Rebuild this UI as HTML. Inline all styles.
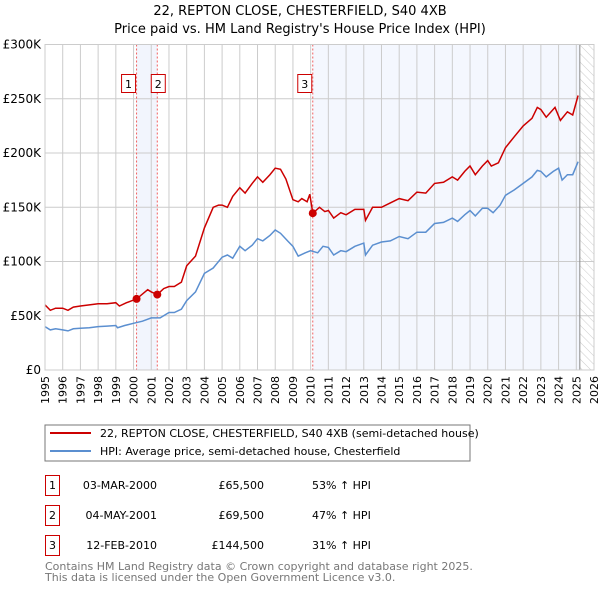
<!DOCTYPE html>
<html><head><meta charset="utf-8"><style>
body{margin:0;background:#fff;font-family:"Liberation Sans","DejaVu Sans",sans-serif;}
svg text{font-family:"DejaVu Sans","Liberation Sans",sans-serif;}
</style></head><body>
<svg id="c" width="600" height="590" xmlns="http://www.w3.org/2000/svg">
<defs><pattern id="hatch" width="6" height="6" patternUnits="userSpaceOnUse" patternTransform="rotate(-45)"><line x1="0" y1="0" x2="0" y2="6" stroke="#ccc" stroke-width="1"/></pattern></defs>
<text x="300" y="15" text-anchor="middle" font-size="13">22, REPTON CLOSE, CHESTERFIELD, S40 4XB</text>
<text x="300" y="33" text-anchor="middle" font-size="13">Price paid vs. HM Land Registry's House Price Index (HPI)</text>
<g id="plot"></g>
<rect x="45" y="425" width="425" height="36" fill="#fff" stroke="#777"/>
<line x1="50" y1="433" x2="91" y2="433" stroke="#cc0000" stroke-width="2"/>
<text x="100" y="437" font-size="11">22, REPTON CLOSE, CHESTERFIELD, S40 4XB (semi-detached house)</text>
<line x1="50" y1="451" x2="91" y2="451" stroke="#5b8fd0" stroke-width="2"/>
<text x="100" y="455" font-size="11">HPI: Average price, semi-detached house, Chesterfield</text>
<g font-size="11">
<rect x="45.5" y="475.5" width="14" height="20" fill="#fff" stroke="#cc0000"/><text x="52.5" y="489" text-anchor="middle">1</text>
<text x="157" y="489" text-anchor="end">03-MAR-2000</text><text x="264" y="489" text-anchor="end">£65,500</text><text x="312" y="489">53% ↑ HPI</text>
<rect x="45.5" y="505.5" width="14" height="20" fill="#fff" stroke="#cc0000"/><text x="52.5" y="519" text-anchor="middle">2</text>
<text x="157" y="519" text-anchor="end">04-MAY-2001</text><text x="264" y="519" text-anchor="end">£69,500</text><text x="312" y="519">47% ↑ HPI</text>
<rect x="45.5" y="535.5" width="14" height="20" fill="#fff" stroke="#cc0000"/><text x="52.5" y="549" text-anchor="middle">3</text>
<text x="157" y="549" text-anchor="end">12-FEB-2010</text><text x="264" y="549" text-anchor="end">£144,500</text><text x="312" y="549">31% ↑ HPI</text>
</g>
<text x="45" y="570" font-size="11" fill="#777">Contains HM Land Registry data © Crown copyright and database right 2025.</text>
<text x="45" y="581" font-size="11" fill="#777">This data is licensed under the Open Government Licence v3.0.</text>
</svg>
<script>
const hpiYears=[1995,1995.3,1995.6,1996,1996.3,1996.6,1997,1997.5,1998,1998.5,1999,1999.1,1999.5,2000,2000.5,2001,2001.5,2002,2002.3,2002.7,2003,2003.5,2004,2004.5,2005,2005.3,2005.6,2006,2006.3,2006.7,2007,2007.3,2007.7,2008,2008.3,2008.7,2009,2009.3,2009.7,2010,2010.4,2010.7,2011,2011.3,2011.7,2012,2012.5,2013,2013.1,2013.5,2014,2014.5,2015,2015.5,2016,2016.5,2017,2017.5,2018,2018.3,2018.7,2019,2019.3,2019.7,2020,2020.3,2020.7,2021,2021.5,2022,2022.5,2022.8,2023,2023.3,2023.7,2024,2024.2,2024.5,2024.8,2025.1];
const hpiValues=[40,37,38,37,36,38,38.5,39,40,40.5,41,39,41,43,45,48,48,53,53,56,64,72,89,94,104,106,103,114,110,115,121,119,124,129,126,119,114,105,108,110,108,114,113,106,110,109,114,117,106,115,118,119,123,121,127,127,135,136,140,137,143,147,142,149,149,145,152,161,166,172,178,184,183,178,183,186,175,180,180,192];
const propYears=[1995,1995.3,1995.6,1996,1996.3,1996.6,1997,1997.5,1998,1998.5,1999,1999.2,1999.6,2000.17,2000.8,2001,2001.34,2001.7,2002,2002.3,2002.7,2003,2003.5,2004,2004.5,2004.8,2005,2005.3,2005.6,2006,2006.3,2006.7,2007,2007.3,2007.7,2008,2008.3,2008.6,2009,2009.3,2009.5,2009.8,2009.95,2010.12,2010.5,2010.8,2011,2011.3,2011.7,2012,2012.5,2013,2013.1,2013.5,2014,2014.5,2015,2015.5,2016,2016.5,2017,2017.5,2018,2018.3,2018.7,2019,2019.3,2019.7,2020,2020.2,2020.6,2021,2021.5,2022,2022.5,2022.8,2023,2023.3,2023.8,2024.1,2024.5,2024.8,2025.1];
const propValues=[60,55,57,57,55,58,59,60,61,61,62,59,62,65.5,74,72,69.5,75,77,77,81,96,105,131,150,152,152,150,160,168,163,172,178,173,180,186,185,176,157,155,158,155,162,144.5,150,146,147,140,145,143,148,148,138,150,150,154,158,156,164,163,172,173,178,175,183,188,180,188,193,188,191,205,215,225,232,242,240,233,242,230,238,235,253];
const saleYears=[2000.17,2001.34,2010.12];
const saleValues=[65.5,69.5,144.5];
const saleLabels=["1","2","3"];
const yTicks=[0,50,100,150,200,250,300];
const yTickLabels=["£0","£50K","£100K","£150K","£200K","£250K","£300K"];
const xTicks=[];for(let y=1995;y<=2026;y++)xTicks.push(y);
const NS="http://www.w3.org/2000/svg";
const L=45,R=594,T=44.5,B=370;
const xS=y=>L+(y-1995)*(R-L)/31;
const yS=v=>B-v*(B-T)/300;
const g=document.getElementById('plot');
function mk(t,a){const e=document.createElementNS(NS,t);for(const k in a)e.setAttribute(k,a[k]);g.appendChild(e);return e;}
let e=mk('rect',{x:xS(saleYears[0]),y:T,width:xS(saleYears[1])-xS(saleYears[0]),height:B-T,fill:'#f2f5fd'});


e=mk('rect',{x:xS(saleYears[2]),y:T,width:xS(2025.2)-xS(saleYears[2]),height:B-T,fill:'#f4f7fe'});


e=mk('rect',{x:xS(2025.2),y:T,width:R-xS(2025.2),height:B-T,fill:'url(#hatch)'});


xTicks.forEach(y=>{
 e=mk('line',{x1:xS(y),x2:xS(y),y1:T,y2:B,stroke:'#ccc','stroke-width':1});
 
 
 e=mk('text',{x:0,y:0,'font-size':11,'text-anchor':'end',transform:`translate(${xS(y)+4},${B+6}) rotate(-90)`});
 e.textContent=y;
 
 
});
yTicks.forEach((v,i)=>{
 e=mk('line',{x1:L,x2:R,y1:yS(v),y2:yS(v),stroke:'#ccc','stroke-width':1});
 
 
 e=mk('text',{x:L-4,y:yS(v)+4,'font-size':12,'text-anchor':'end'});
 e.textContent=yTickLabels[i];
 
 
});
e=mk('line',{x1:xS(2025.2),x2:xS(2025.2),y1:T,y2:B,stroke:'#888','stroke-width':1});


saleYears.forEach((y,i)=>{
 e=mk('line',{x1:xS(y),x2:xS(y),y1:T,y2:B,stroke:'#f06060','stroke-width':1,'stroke-dasharray':'2,2'});
 
 
});
function pts(xs,vs){return xs.map((x,i)=>xS(x).toFixed(1)+','+yS(vs[i]).toFixed(1)).join(' ');}
e=mk('polyline',{points:pts(hpiYears,hpiValues),fill:'none',stroke:'#5b8fd0','stroke-width':1.5});


e=mk('polyline',{points:pts(propYears,propValues),fill:'none',stroke:'#cc0000','stroke-width':1.5});


saleYears.forEach((y,i)=>{
 e=mk('circle',{cx:xS(y),cy:yS(saleValues[i]),r:4,fill:'#cc0000'});
 
 
 e=mk('rect',{x:xS(y)+(i==1?-6:-15),y:74.5,width:14,height:18,fill:'#fff',stroke:'#cc0000'});
 
 
 e=mk('text',{x:xS(y)+(i==1?1:-8),y:88,'font-size':11,'text-anchor':'middle'});
 e.textContent=saleLabels[i];
 
 
});
e=mk('rect',{x:L,y:T,width:R-L,height:B-T,fill:'none',stroke:'#ccc'});


</script>
</body></html>
